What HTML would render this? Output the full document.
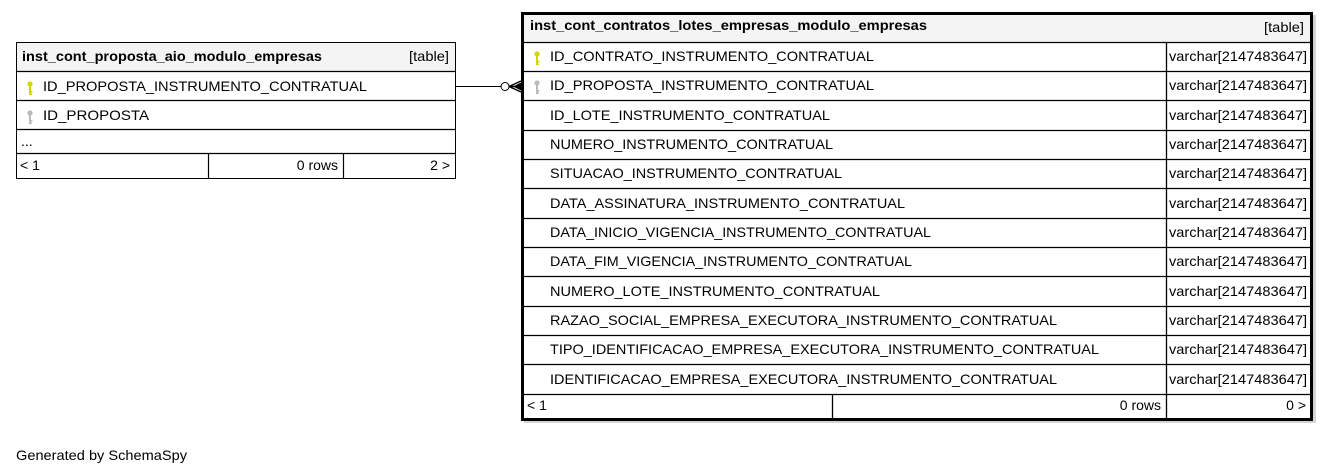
<!DOCTYPE html>
<html><head><meta charset="utf-8"><style>
html,body{margin:0;padding:0;background:#fff;width:1329px;height:476px;overflow:hidden}
svg text{font-family:"Liberation Sans",Arial,sans-serif;font-size:14px;fill:#000}
.b{font-weight:bold}
</style></head><body>
<svg width="1329" height="476" xmlns="http://www.w3.org/2000/svg">
<defs>
<g id="key"><circle cx="0" cy="-3" r="2.6" fill="currentColor"/><rect x="-1" y="-1" width="2" height="9" fill="currentColor"/><rect x="0" y="4" width="2.5" height="1.5" fill="currentColor"/><rect x="0" y="6.5" width="2" height="1.5" fill="currentColor"/></g>
</defs>
<!-- left table -->
<rect x="16.5" y="42.5" width="439" height="136" fill="#fff" stroke="#000"/>
<rect x="17" y="43" width="438" height="28" fill="#f4f4f4"/>
<g stroke="#000" stroke-width="1.2">
<line x1="16" y1="71.5" x2="456" y2="71.5"/>
<line x1="16" y1="100.5" x2="456" y2="100.5"/>
<line x1="16" y1="129.5" x2="456" y2="129.5"/>
<line x1="16" y1="153.5" x2="456" y2="153.5"/>
<line x1="208.5" y1="153" x2="208.5" y2="179"/>
<line x1="343.5" y1="153" x2="343.5" y2="179"/>
</g>
<text x="22" y="61" class="b" textLength="300" lengthAdjust="spacingAndGlyphs">inst_cont_proposta_aio_modulo_empresas</text>
<text x="409" y="61" textLength="40" lengthAdjust="spacingAndGlyphs">[table]</text>
<use href="#key" x="30" y="87" style="color:#d4d400"/>
<text x="43" y="91" textLength="324" lengthAdjust="spacingAndGlyphs">ID_PROPOSTA_INSTRUMENTO_CONTRATUAL</text>
<use href="#key" x="30" y="116" style="color:#bbb"/>
<text x="43" y="120" textLength="106" lengthAdjust="spacingAndGlyphs">ID_PROPOSTA</text>
<text x="21" y="146" font-size="12">...</text>
<text x="20" y="170">&lt; 1</text>
<text x="338" y="170" text-anchor="end">0 rows</text>
<text x="450" y="170" text-anchor="end">2 &gt;</text>
<!-- connector -->
<line x1="456" y1="86.5" x2="501" y2="86.5" stroke="#000"/>
<circle cx="505" cy="86.5" r="4" fill="#fff" stroke="#000"/>
<path d="M509 86.5 L521 81 M509 86.5 L521 92 M509 86.5 L521 86.5" stroke="#000" stroke-width="1.5" fill="none"/>
<path d="M513 86.5 L521 82.5 L521 90.5 Z" fill="#000"/>
<!-- right table -->
<rect x="524" y="15" width="792" height="408" fill="#aaa" opacity="0.5"/>
<rect x="522.5" y="13.5" width="789" height="406" fill="#fff" stroke="#000" stroke-width="3"/>
<rect x="524" y="15" width="786" height="27" fill="#f4f4f4"/>
<g stroke="#000" stroke-width="1.3" id="rl"></g>
<text x="530" y="30" class="b" textLength="397" lengthAdjust="spacingAndGlyphs">inst_cont_contratos_lotes_empresas_modulo_empresas</text>
<text x="1264" y="32" textLength="40" lengthAdjust="spacingAndGlyphs">[table]</text>
<g stroke="#000" stroke-width="1.3">
<line x1="522" y1="42.5" x2="1312" y2="42.5"/>
<line x1="522" y1="71.5" x2="1312" y2="71.5"/>
<line x1="522" y1="100.5" x2="1312" y2="100.5"/>
<line x1="522" y1="130.5" x2="1312" y2="130.5"/>
<line x1="522" y1="159.5" x2="1312" y2="159.5"/>
<line x1="522" y1="188.5" x2="1312" y2="188.5"/>
<line x1="522" y1="218.5" x2="1312" y2="218.5"/>
<line x1="522" y1="247.5" x2="1312" y2="247.5"/>
<line x1="522" y1="276.5" x2="1312" y2="276.5"/>
<line x1="522" y1="306.5" x2="1312" y2="306.5"/>
<line x1="522" y1="335.5" x2="1312" y2="335.5"/>
<line x1="522" y1="364.5" x2="1312" y2="364.5"/>
<line x1="522" y1="394.5" x2="1312" y2="394.5"/>
<line x1="1166.5" y1="42" x2="1166.5" y2="419"/>
<line x1="832.5" y1="394" x2="832.5" y2="419"/>
</g>
<use href="#key" x="537" y="57" style="color:#d4d400"/>
<use href="#key" x="537" y="86" style="color:#bbb"/>
<g>
<text x="550" y="61" textLength="324" lengthAdjust="spacingAndGlyphs">ID_CONTRATO_INSTRUMENTO_CONTRATUAL</text>
<text x="550" y="90" textLength="324" lengthAdjust="spacingAndGlyphs">ID_PROPOSTA_INSTRUMENTO_CONTRATUAL</text>
<text x="550" y="120" textLength="280" lengthAdjust="spacingAndGlyphs">ID_LOTE_INSTRUMENTO_CONTRATUAL</text>
<text x="550" y="149" textLength="283" lengthAdjust="spacingAndGlyphs">NUMERO_INSTRUMENTO_CONTRATUAL</text>
<text x="550" y="178" textLength="292" lengthAdjust="spacingAndGlyphs">SITUACAO_INSTRUMENTO_CONTRATUAL</text>
<text x="550" y="208" textLength="355" lengthAdjust="spacingAndGlyphs">DATA_ASSINATURA_INSTRUMENTO_CONTRATUAL</text>
<text x="550" y="237" textLength="381" lengthAdjust="spacingAndGlyphs">DATA_INICIO_VIGENCIA_INSTRUMENTO_CONTRATUAL</text>
<text x="550" y="266" textLength="362" lengthAdjust="spacingAndGlyphs">DATA_FIM_VIGENCIA_INSTRUMENTO_CONTRATUAL</text>
<text x="550" y="296" textLength="330" lengthAdjust="spacingAndGlyphs">NUMERO_LOTE_INSTRUMENTO_CONTRATUAL</text>
<text x="550" y="325" textLength="507" lengthAdjust="spacingAndGlyphs">RAZAO_SOCIAL_EMPRESA_EXECUTORA_INSTRUMENTO_CONTRATUAL</text>
<text x="550" y="354" textLength="549" lengthAdjust="spacingAndGlyphs">TIPO_IDENTIFICACAO_EMPRESA_EXECUTORA_INSTRUMENTO_CONTRATUAL</text>
<text x="550" y="384" textLength="507" lengthAdjust="spacingAndGlyphs">IDENTIFICACAO_EMPRESA_EXECUTORA_INSTRUMENTO_CONTRATUAL</text>
</g>
<g>
<text x="1169" y="61" textLength="138" lengthAdjust="spacingAndGlyphs">varchar[2147483647]</text>
<text x="1169" y="90" textLength="138" lengthAdjust="spacingAndGlyphs">varchar[2147483647]</text>
<text x="1169" y="120" textLength="138" lengthAdjust="spacingAndGlyphs">varchar[2147483647]</text>
<text x="1169" y="149" textLength="138" lengthAdjust="spacingAndGlyphs">varchar[2147483647]</text>
<text x="1169" y="178" textLength="138" lengthAdjust="spacingAndGlyphs">varchar[2147483647]</text>
<text x="1169" y="208" textLength="138" lengthAdjust="spacingAndGlyphs">varchar[2147483647]</text>
<text x="1169" y="237" textLength="138" lengthAdjust="spacingAndGlyphs">varchar[2147483647]</text>
<text x="1169" y="266" textLength="138" lengthAdjust="spacingAndGlyphs">varchar[2147483647]</text>
<text x="1169" y="296" textLength="138" lengthAdjust="spacingAndGlyphs">varchar[2147483647]</text>
<text x="1169" y="325" textLength="138" lengthAdjust="spacingAndGlyphs">varchar[2147483647]</text>
<text x="1169" y="354" textLength="138" lengthAdjust="spacingAndGlyphs">varchar[2147483647]</text>
<text x="1169" y="384" textLength="138" lengthAdjust="spacingAndGlyphs">varchar[2147483647]</text>
</g>
<text x="527" y="410">&lt; 1</text>
<text x="1161" y="410" text-anchor="end">0 rows</text>
<text x="1306" y="410" text-anchor="end">0 &gt;</text>
<text x="16" y="460" textLength="171" lengthAdjust="spacingAndGlyphs">Generated by SchemaSpy</text>
</svg>
</body></html>
